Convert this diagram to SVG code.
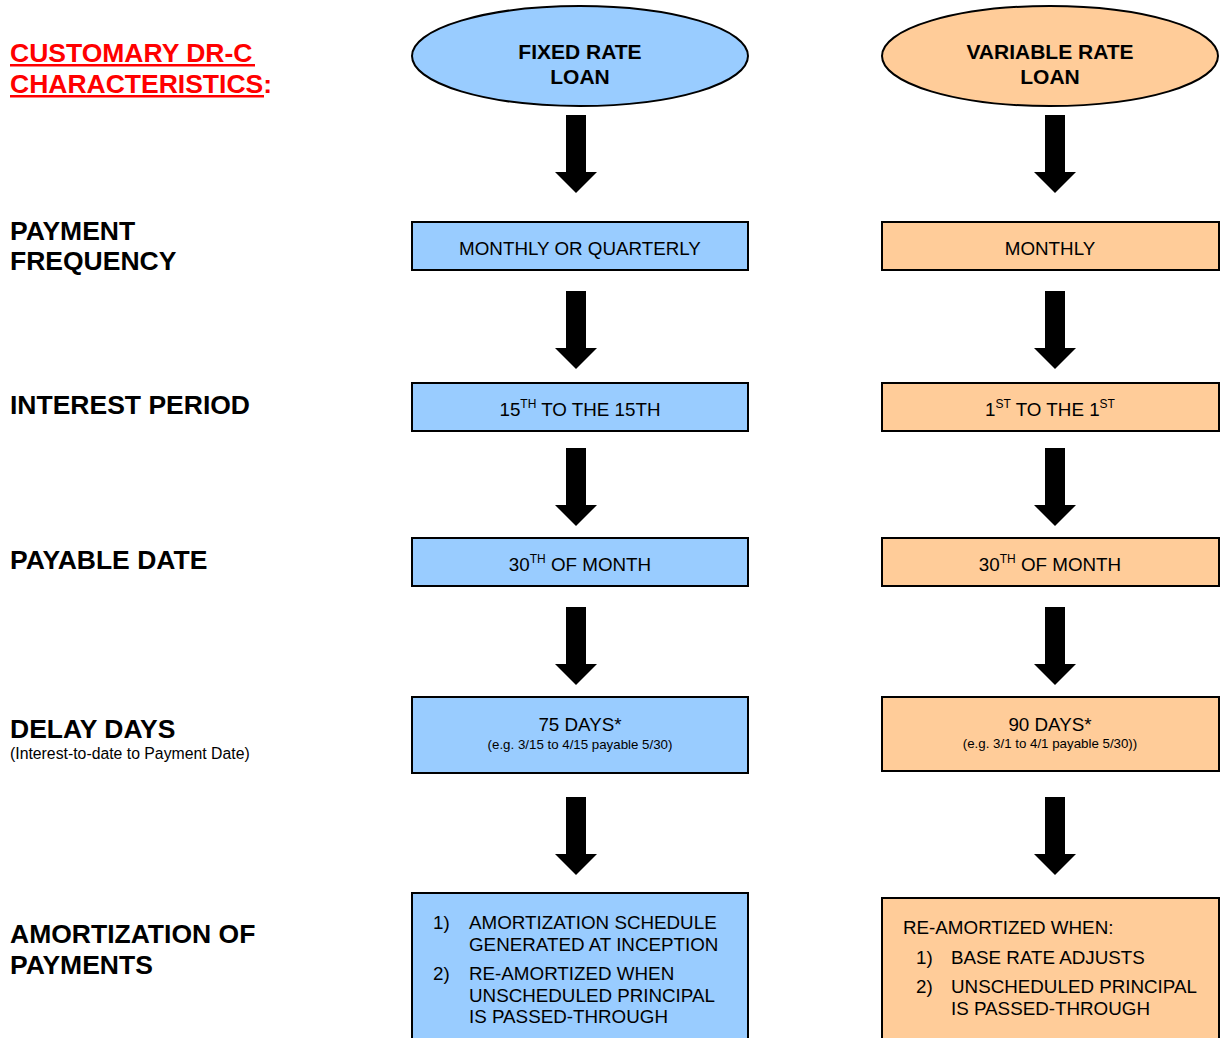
<svg xmlns="http://www.w3.org/2000/svg" width="1220" height="1038" viewBox="0 0 1220 1038">
<defs>
<style>
.lbl{font-family:"Liberation Sans",Arial,sans-serif;font-weight:bold;font-size:26.5px;fill:#000}
.title{font-family:"Liberation Sans",Arial,sans-serif;font-weight:bold;font-size:26.5px;fill:#ff0000}
.hd{font-family:"Liberation Sans",Arial,sans-serif;font-weight:bold;font-size:21px;fill:#000;text-anchor:middle}
.t{font-family:"Liberation Sans",Arial,sans-serif;font-size:18.8px;fill:#000}
.c{text-anchor:middle}
.s{font-family:"Liberation Sans",Arial,sans-serif;font-size:13.3px;fill:#000;text-anchor:middle}
.note{font-family:"Liberation Sans",Arial,sans-serif;font-size:15.8px;fill:#000}
.blue{fill:#99ccff;stroke:#000;stroke-width:2}
.orange{fill:#ffcc99;stroke:#000;stroke-width:2}
.sup{font-size:12px}
</style>
<path id="arr" d="M-10,0 H10 V57 H21 L0,78 L-21,57 H-10 Z" fill="#000"/>
</defs>

<g id="title">
<text class="title" x="10" y="62">CUSTOMARY DR-C</text>
<text class="title" x="10" y="93">CHARACTERISTICS:</text>
<rect x="10" y="64" width="245" height="2.5" fill="#ff0000"/>
<rect x="10" y="95" width="254" height="2.5" fill="#ff0000"/>
</g>

<g id="row-labels">
<text class="lbl" x="10" y="240">PAYMENT</text>
<text class="lbl" x="10" y="270">FREQUENCY</text>
<text class="lbl" x="10" y="414">INTEREST PERIOD</text>
<text class="lbl" x="10" y="569">PAYABLE DATE</text>
<text class="lbl" x="10" y="738">DELAY DAYS</text>
<text class="note" x="10" y="759">(Interest-to-date to Payment Date)</text>
<text class="lbl" x="10" y="943">AMORTIZATION OF</text>
<text class="lbl" x="10" y="974">PAYMENTS</text>
</g>

<g id="fixed-head">
<ellipse cx="580" cy="56" rx="168" ry="50" class="blue" stroke-width="1.5"/>
<text class="hd" x="580" y="59">FIXED RATE</text>
<text class="hd" x="580" y="84">LOAN</text>
</g>
<g id="var-head">
<ellipse cx="1050" cy="56" rx="168" ry="50" class="orange" stroke-width="1.5"/>
<text class="hd" x="1050" y="59">VARIABLE RATE</text>
<text class="hd" x="1050" y="84">LOAN</text>
</g>

<g id="fixed-freq">
<rect x="412" y="222" width="336" height="48" class="blue"/>
<text class="t c" x="580" y="255">MONTHLY OR QUARTERLY</text>
</g>
<g id="var-freq">
<rect x="882" y="222" width="337" height="48" class="orange"/>
<text class="t c" x="1050" y="255">MONTHLY</text>
</g>

<g id="fixed-interest">
<rect x="412" y="383" width="336" height="48" class="blue"/>
<text class="t c" x="580" y="416">15<tspan class="sup" dy="-8">TH</tspan><tspan dy="8"> TO THE 15TH</tspan></text>
</g>
<g id="var-interest">
<rect x="882" y="383" width="337" height="48" class="orange"/>
<text class="t c" x="1050" y="416">1<tspan class="sup" dy="-8">ST</tspan><tspan dy="8"> TO THE 1</tspan><tspan class="sup" dy="-8">ST</tspan></text>
</g>

<g id="fixed-payable">
<rect x="412" y="538" width="336" height="48" class="blue"/>
<text class="t c" x="580" y="571">30<tspan class="sup" dy="-8">TH</tspan><tspan dy="8"> OF MONTH</tspan></text>
</g>
<g id="var-payable">
<rect x="882" y="538" width="337" height="48" class="orange"/>
<text class="t c" x="1050" y="571">30<tspan class="sup" dy="-8">TH</tspan><tspan dy="8"> OF MONTH</tspan></text>
</g>

<g id="fixed-delay">
<rect x="412" y="697" width="336" height="76" class="blue"/>
<text class="t c" x="580" y="731">75 DAYS*</text>
<text class="s" x="580" y="749">(e.g. 3/15 to 4/15 payable 5/30)</text>
</g>
<g id="var-delay">
<rect x="882" y="697" width="337" height="74" class="orange"/>
<text class="t c" x="1050" y="731">90 DAYS*</text>
<text class="s" x="1050" y="748">(e.g. 3/1 to 4/1 payable 5/30))</text>
</g>

<g id="fixed-amort">
<rect x="412" y="893" width="336" height="150" class="blue"/>
<text class="t" x="433" y="929">1)</text>
<text class="t" x="469" y="929">AMORTIZATION SCHEDULE</text>
<text class="t" x="469" y="951">GENERATED AT INCEPTION</text>
<text class="t" x="433" y="980">2)</text>
<text class="t" x="469" y="980">RE-AMORTIZED WHEN</text>
<text class="t" x="469" y="1002">UNSCHEDULED PRINCIPAL</text>
<text class="t" x="469" y="1023">IS PASSED-THROUGH</text>
</g>
<g id="var-amort">
<rect x="882" y="898" width="337" height="145" class="orange"/>
<text class="t" x="903" y="934">RE-AMORTIZED WHEN:</text>
<text class="t" x="916" y="964">1)</text>
<text class="t" x="951" y="964">BASE RATE ADJUSTS</text>
<text class="t" x="916" y="993">2)</text>
<text class="t" x="951" y="993">UNSCHEDULED PRINCIPAL</text>
<text class="t" x="951" y="1015">IS PASSED-THROUGH</text>
</g>

<g id="connectors">
<use href="#arr" x="576" y="115"/>
<use href="#arr" x="576" y="291"/>
<use href="#arr" x="576" y="448"/>
<use href="#arr" x="576" y="607"/>
<use href="#arr" x="576" y="797"/>
<use href="#arr" x="1055" y="115"/>
<use href="#arr" x="1055" y="291"/>
<use href="#arr" x="1055" y="448"/>
<use href="#arr" x="1055" y="607"/>
<use href="#arr" x="1055" y="797"/>
</g>
</svg>
